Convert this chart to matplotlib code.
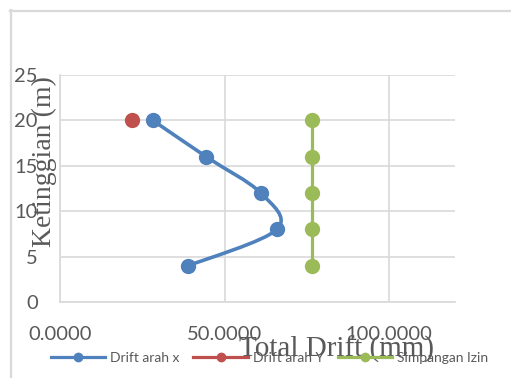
import numpy as np
import matplotlib
matplotlib.use("Agg")
import matplotlib.pyplot as plt
from matplotlib.path import Path
from matplotlib.patches import PathPatch
from matplotlib.lines import Line2D

# values
heights = [20, 16, 12, 8, 4]
drift_x = [28.2, 44.4, 61.0, 65.9, 39.0]
drift_y_height = [20]
drift_y = [21.9]
izin = [76.6, 76.6, 76.6, 76.6, 76.6]
x_ticks = [0, 50, 100]
y_ticks = [0, 5, 10, 15, 20, 25]
labels = ["Drift arah x", "Drift arah Y", "Simpangan Izin"]

BLUE = "#4F81BD"
RED = "#C0504D"
GREEN = "#9BBB59"
GRID = "#D9D9D9"
TXT = "#595959"

W, H = 511, 378


def smooth_path(ax, xs, ys):
    # excel style smoothed line: bezier segments built in screen space
    pts = ax.transData.transform(np.column_stack([xs, ys]))
    n = len(pts)
    verts = [pts[0]]
    codes = [Path.MOVETO]
    for i in range(n - 1):
        p0 = pts[i - 1] if i > 0 else pts[i]
        p1 = pts[i]
        p2 = pts[i + 1]
        p3 = pts[i + 2] if i + 2 < n else pts[i + 1]
        c1 = p1 + (p2 - p0) / 6.0
        c2 = p2 - (p3 - p1) / 6.0
        verts += [c1, c2, p2]
        codes += [Path.CURVE4] * 3
    verts = ax.transData.inverted().transform(np.array(verts))
    return Path(verts, codes)


fig = plt.figure(figsize=(W / 100, H / 100), dpi=100)
ax = fig.add_axes([60 / W, 1 - 302 / H, 395 / W, 227 / H])

ax.set_xlim(0, 120)
ax.set_ylim(0, 25)
ax.set_xticks(x_ticks)
ax.set_yticks(y_ticks)
ax.set_xticklabels([f"{v:.4f}" for v in x_ticks])
ax.grid(True, color=GRID, lw=1.2)
ax.set_axisbelow(True)
for s in ["top", "right"]:
    ax.spines[s].set_visible(False)
for s in ["left", "bottom"]:
    ax.spines[s].set_color(GRID)
    ax.spines[s].set_linewidth(1.2)
ax.tick_params(length=0, labelsize=14.5, labelcolor=TXT)
ax.tick_params(axis="y", pad=16)
ax.tick_params(axis="x", pad=17)
for lab in ax.get_xticklabels() + ax.get_yticklabels():
    lab.set_family("Lato")

# series
ax.add_patch(PathPatch(smooth_path(ax, drift_x, heights), fill=False,
                       edgecolor=BLUE, lw=2.6, capstyle="round", zorder=3))
ax.plot(drift_x, heights, ls="none", marker="o", ms=10, color=BLUE, zorder=4)
ax.plot(drift_y, drift_y_height, ls="none", marker="o", ms=10, color=RED, zorder=4)
ax.plot(izin, heights, color=GREEN, lw=2.3, marker="o", ms=10, zorder=4)

ax.set_ylabel("Ketinggian (m)", family="Liberation Serif", fontsize=20, color=TXT)
ax.yaxis.set_label_coords(-0.008, 0.62)
ax.set_xlabel("Total Drift (mm)", family="Liberation Serif", fontsize=21, color=TXT)
ax.xaxis.set_label_coords(0.701, -0.15)

handles = [Line2D([], [], color=c, lw=2.3, marker="o", ms=6) for c in (BLUE, RED, GREEN)]
leg = fig.legend(handles, labels, loc="center left", bbox_to_anchor=(38 / W, 1 - 358 / H),
                 ncol=3, frameon=False, handlelength=3.9, handletextpad=0.35,
                 columnspacing=1.05, prop={"family": "Lato", "size": 10})
for t in leg.get_texts():
    t.set_color(TXT)

# chart border (cropped at the right and bottom)
fig.add_artist(Line2D([10 / W, 1], [1 - 10.5 / H, 1 - 10.5 / H], color=GRID, lw=1.6))
fig.add_artist(Line2D([10.5 / W, 10.5 / W], [1 - 10 / H, 0], color=GRID, lw=1.6))

fig.savefig("out.png", dpi=100)
